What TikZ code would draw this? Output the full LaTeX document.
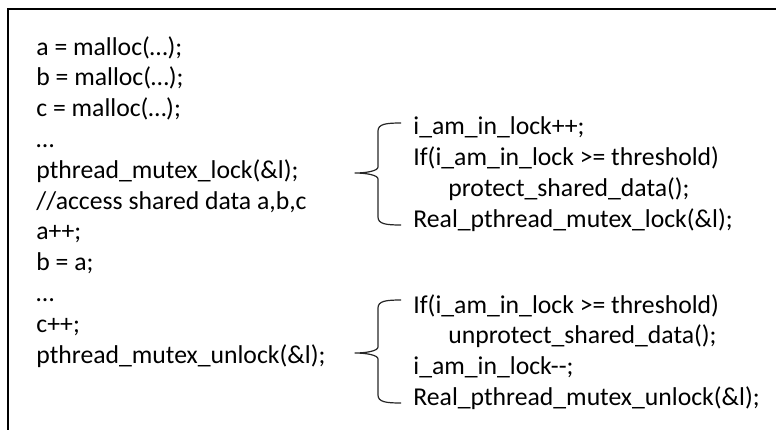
\documentclass[tikz,border=0pt]{standalone}
\usepackage{fontspec}
\setmainfont{Carlito}
\usetikzlibrary{calc,positioning}

\begin{document}
\begin{tikzpicture}[
        x=0.5pt, y=-0.5pt,
        code/.style = {anchor=base west, inner sep=0pt, font=\fontsize{12.85}{15.4}\selectfont},
        frame/.style = {draw=black, line width=1pt},
        bracket/.style = {draw=black!85, line width=0.6pt, line join=round}]

    \def\rowgap{30.8}
    \def\leftx{36}
    \def\rightx{413}
    % left-pointing brace: top y, tip y, bottom y
    \def\codebrace#1#2#3{%
        \draw[bracket] (401,#1) .. controls (386,#1) and (378,#1+1) .. (378,#1+8)
            -- (378,#2-6) .. controls (378,#2-2) and (366,#2) .. (355,#2)
            .. controls (366,#2) and (378,#2+2) .. (378,#2+6)
            -- (378,#3-8) .. controls (378,#3-1) and (386,#3) .. (401,#3);}

    \useasboundingbox (0,0) rectangle (776,429);
    \draw[frame] (8,432) -- (8,9) -- (779,9);

    % program
    \foreach \txt [count=\i] in {a = malloc(…);, b = malloc(…);, c = malloc(…);, …,
            pthread\_mutex\_lock(\&l);, {//access shared data a,b,c}, a++;, b = a;, …,
            c++;, pthread\_mutex\_unlock(\&l);}
        \node[code] (L\i) at (\leftx,{55+(\i-1)*\rowgap}) {\txt};

    % wrapped lock
    \foreach \txt/\dx [count=\i] in {i\_am\_in\_lock++;/0,
            If(i\_am\_in\_lock >= threshold)/0,
            protect\_shared\_data();/35,
            Real\_pthread\_mutex\_lock(\&l);/0}
        \node[code] (P\i) at ({\rightx+\dx},{134+(\i-1)*31}) {\txt};

    % wrapped unlock
    \foreach \txt/\dx [count=\i] in {If(i\_am\_in\_lock >= threshold)/0,
            unprotect\_shared\_data();/35,
            i\_am\_in\_lock-{}-;/0,
            Real\_pthread\_mutex\_unlock(\&l);/0}
        \node[code] (U\i) at ({\rightx+\dx},{313+(\i-1)*30.8}) {\txt};

    \codebrace{123}{173}{225}
    \codebrace{300}{353}{403}

\end{tikzpicture}
\end{document}
